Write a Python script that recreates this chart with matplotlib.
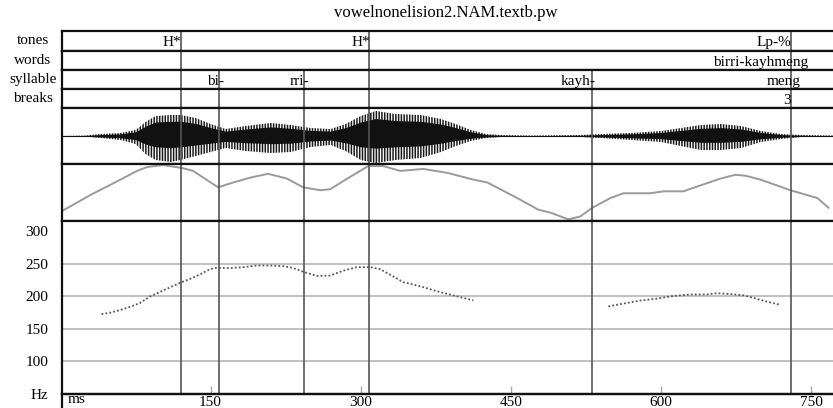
import matplotlib
matplotlib.use('Agg')
import matplotlib.pyplot as plt
import numpy as np

plt.rcParams['font.family'] = ['Liberation Serif', 'DejaVu Serif']
plt.rcParams['hatch.linewidth'] = 1.1

TITLE = 'vowelnonelision2.NAM.textb.pw'
T_MIN, T_MAX = 1.5, 773

# annotation tiers: name, boundary times (ms), labels, label end times (ms)
tier_names = ['tones', 'words', 'syllable', 'breaks']
tier_bounds = [
    [120.5, 308.5, 730.5],
    [120.5, 308.5, 730.5],
    [120.5, 158.5, 243.5, 308.5, 531.5, 730.5],
    [120.5, 158.5, 243.5, 308.5, 531.5, 730.5],
]
tier_labels = [
    ['H*', 'H*', 'Lp-%'],
    ['birri-kayhmeng'],
    ['bi-', 'rri-', 'kayh-', 'meng'],
    ['3'],
]
tier_label_t = [
    [121, 309, 730],
    [747],
    [163, 249, 535, 740],
    [730],
]
panel_bounds = [120.5, 158.5, 243.5, 308.5, 531.5, 730.5]

# waveform amplitude envelope (pixel units above / below the zero line)
wave_t = [0, 24, 40, 60, 75, 85, 95, 110, 120, 135, 150, 165, 185, 210, 230,
          250, 270, 285, 300, 315, 335, 360, 380, 395, 410, 425, 440, 470,
          520, 540, 570, 600, 620, 640, 660, 680, 700, 720, 740, 773]
wave_up = [0, 0.5, 2, 3, 6, 14, 20, 21, 21, 18, 12, 7, 10, 13, 11,
           8, 7, 12, 20, 25, 22, 21, 17, 12, 6, 2, 1, 0.5,
           1, 2, 3, 5, 8, 11, 12, 10, 5, 2, 1, 0.5]
wave_lo = [0, 0.5, 2, 4, 8, 18, 24, 26, 24, 20, 16, 12, 15, 17, 16,
           11, 9, 15, 24, 27, 24, 22, 16, 10, 5, 2, 1, 0.5,
           1, 2, 4, 6, 10, 14, 14, 12, 6, 3, 1, 0.5]

# intensity contour (dB)
int_t = [0.5, 29.5, 52.5, 76.5, 86.5, 102.5, 121.5, 132.5, 157.5, 172.5,
         189.5, 207.5, 226.5, 242.5, 259.5, 269.5, 286.5, 307.5, 322.5, 339.5,
         362.5, 386.5, 412.5, 426.5, 456.5, 477.5, 489.5, 507.5, 519.5, 531.5,
         549.5, 562.5, 589.5, 602.5, 622.5, 639.5, 659.5, 674.5, 684.5, 699.5,
         729.5, 756.5, 767.5]
int_db = [46.3, 58.2, 66.7, 75.8, 78.6, 80.0, 77.9, 75.8, 63.9, 67.4,
          70.9, 73.7, 70.2, 63.9, 61.8, 62.5, 70.2, 79.3, 79.3, 75.8,
          77.2, 74.4, 69.5, 67.4, 56.1, 47.7, 45.6, 40.7, 42.8, 49.1,
          56.1, 59.6, 59.6, 61.0, 61.0, 65.3, 70.2, 73.0, 72.3, 69.5,
          61.8, 56.1, 49.1]

# F0 contour (Hz), two voiced stretches
f0_t1 = [41, 49.5, 59.5, 69.5, 79.5, 89.5, 99.5, 109.5, 119.5, 129.5,
         139.5, 149.5, 156, 169.5, 182.5, 196, 209.5, 222.5, 232, 244.5,
         256, 269.5, 282.5, 296, 309.5, 319.5, 332.5, 342.5, 359.5, 376,
         392.5, 412.5]
f0_hz1 = [172.8, 175, 179, 184, 190, 200, 207, 214, 221, 227,
          234, 242, 244, 243.6, 245, 247.6, 247.6, 246.6, 244, 237,
          231.6, 232, 239.6, 245, 245, 242, 230.7, 222, 215.7, 208,
          201.6, 194]
f0_t2 = [547.5, 562.5, 579.5, 596, 612.5, 629.5, 646, 656, 669.5, 682.5,
         692.5, 706, 719.5]
f0_hz2 = [184.7, 189, 193.7, 196.7, 200.7, 203, 203, 205, 203.7, 201.7,
          197.7, 192, 187]

hz_ticks = [50, 100, 150, 200, 250, 300]
hz_labels = ['Hz', '100', '150', '200', '250', '300']
ms_ticks = [150, 300, 450, 600, 750]

W, H = 833, 408
LEFT = 62
FS = 11


def rect(top, bottom):
    return [LEFT / W, 1 - bottom / H, (W - LEFT + 1) / W, (bottom - top) / H]


def frame(ax):
    ax.set_xlim(T_MIN, T_MAX)
    ax.set_xticks([])
    ax.set_yticks([])
    ax.spines['right'].set_visible(False)
    for s in ['top', 'bottom', 'left']:
        ax.spines[s].set_linewidth(1.6)
        ax.spines[s].set_color('#111111')


fig = plt.figure(figsize=(W / 100, H / 100), dpi=100)
fig.text(446 / W, 1 - 13 / H, TITLE, ha='center', va='center', fontsize=12)

row_edges = [31, 51, 70, 89, 108]
for i, name in enumerate(tier_names):
    top, bot = row_edges[i], row_edges[i + 1]
    ax = fig.add_axes(rect(top, bot))
    frame(ax)
    ax.set_ylim(0, 1)
    for b in tier_bounds[i]:
        ax.axvline(b, color='#555555', lw=1.2)
    for lab, t in zip(tier_labels[i], tier_label_t[i]):
        ax.text(t, 0.42, lab, ha='right', va='center', fontsize=FS)
    fig.text(33 / W, 1 - (top + bot) / 2 / H, name, ha='center',
             va='center', fontsize=FS)

# waveform
ax_w = fig.add_axes(rect(108, 164))
frame(ax_w)
ax_w.set_ylim(-28, 28)
up = np.array(wave_up)
lo = np.array(wave_lo)
ax_w.fill_between(wave_t, -lo, up, facecolor='none', edgecolor='#1a1a1a',
                  hatch='||||||', lw=0)
ax_w.fill_between(wave_t, -0.45 * lo, 0.7 * up, color='#111111', lw=0)
ax_w.axhline(0, color='#111111', lw=0.8)
for b in panel_bounds:
    ax_w.axvline(b, color='#555555', lw=1.2)

# intensity
ax_i = fig.add_axes(rect(164, 221))
frame(ax_i)
ax_i.set_ylim(39.5, 80.8)
ax_i.plot(int_t, int_db, color='#9a9a9a', lw=1.4)
for b in panel_bounds:
    ax_i.axvline(b, color='#555555', lw=1.2)

# pitch
ax_p = fig.add_axes(rect(221, 394))
frame(ax_p)
ax_p.set_ylim(50, 316)
for h in hz_ticks[1:-1]:
    ax_p.axhline(h, color='#b5b5b5', lw=1.2, zorder=1)
for b in panel_bounds:
    ax_p.axvline(b, color='#555555', lw=1.2, zorder=2)
for t, f in [(f0_t1, f0_hz1), (f0_t2, f0_hz2)]:
    ax_p.plot(t, f, color='#555555', lw=1.3, linestyle=(0, (1, 1.2)),
              zorder=3)
ax_p.set_yticks(hz_ticks)
ax_p.set_yticklabels(hz_labels, fontsize=FS)
ax_p.tick_params(axis='y', length=0, pad=10)
ax_p.set_xticks(ms_ticks)
ax_p.set_xticklabels([str(m) for m in ms_ticks], fontsize=FS)
ax_p.tick_params(axis='x', direction='in', length=6, width=1,
                 color='#aaaaaa', pad=1.5)

# time strip below the pitch panel
ax_s = fig.add_axes(rect(394, 420))
frame(ax_s)
ax_s.patch.set_alpha(0)
ax_s.text(0.007, 0.78, 'ms', transform=ax_s.transAxes, ha='left',
          va='center', fontsize=FS)

fig.savefig('out.png', dpi=100)
